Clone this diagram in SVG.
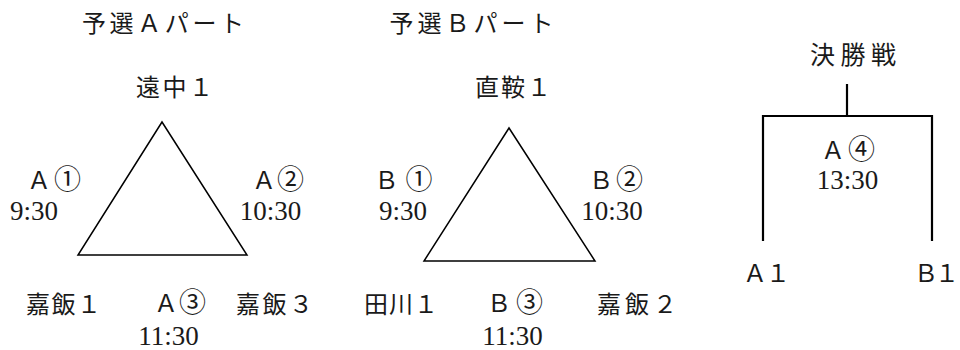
<svg xmlns="http://www.w3.org/2000/svg" width="960" height="350" viewBox="0 0 960 350">
<style>
  .jp { font-family: "Liberation Serif", "Noto Sans CJK JP", serif; font-size: 24px; fill: #1a1a1a; text-anchor: middle; }
  .tm { font-family: "Liberation Serif", "Noto Sans CJK JP", serif; font-size: 27px; fill: #1a1a1a; text-anchor: middle; }
  .c { font-size: 27px; }
  .tri { fill: none; stroke: #000; stroke-width: 1.5; stroke-linejoin: miter; }
  .ln { fill: none; stroke: #000; stroke-width: 2.2; }
</style>
<rect width="960" height="350" fill="#fff"/>

<g id="partA">
  <text class="jp" x="163" y="32" textLength="162">予選Ａパート</text>
  <g id="a-top"><text class="jp" x="174.5" y="96" textLength="77">遠中１</text></g>
  <polygon id="triangle-a" class="tri" points="162,122 78,255 247,255"/>
  <g id="a-match1">
    <text class="jp" x="54" y="189" textLength="54">Ａ<tspan class="c">①</tspan></text>
    <text class="tm" x="34" y="219.5">9:30</text>
  </g>
  <g id="a-match2">
    <text class="jp" x="278" y="189" textLength="52">Ａ<tspan class="c">②</tspan></text>
    <text class="tm" x="270.5" y="219.5">10:30</text>
  </g>
  <g id="a-left"><text class="jp" x="63.5" y="313" textLength="75">嘉飯１</text></g>
  <g id="a-match3">
    <text class="jp" x="180" y="312" textLength="52">Ａ<tspan class="c">③</tspan></text>
    <text class="tm" x="168.5" y="345">11:30</text>
  </g>
  <g id="a-right"><text class="jp" x="274.5" y="313" textLength="77">嘉飯３</text></g>
</g>

<g id="partB">
  <text class="jp" x="471.5" y="32" textLength="164">予選Ｂパート</text>
  <g id="b-top"><text class="jp" x="513" y="96" textLength="76">直鞍１</text></g>
  <polygon id="triangle-b" class="tri" points="509,128 424,261 595,261"/>
  <g id="b-match1">
    <text class="jp" x="403.5" y="189" textLength="58">Ｂ<tspan class="c">①</tspan></text>
    <text class="tm" x="403" y="219.5">9:30</text>
  </g>
  <g id="b-match2">
    <text class="jp" x="616" y="189" textLength="54">Ｂ<tspan class="c">②</tspan></text>
    <text class="tm" x="612" y="219.5">10:30</text>
  </g>
  <g id="b-left"><text class="jp" x="401" y="313" textLength="74">田川１</text></g>
  <g id="b-match3">
    <text class="jp" x="515" y="312" textLength="56">Ｂ<tspan class="c">③</tspan></text>
    <text class="tm" x="512.5" y="345">11:30</text>
  </g>
  <g id="b-right"><text class="jp" x="637" y="313" textLength="80">嘉飯２</text></g>
</g>

<g id="final">
  <g id="final-title"><text class="jp" x="853" y="63.5" textLength="86" style="font-size:25px">決勝戦</text></g>
  <g id="final-match">
    <text class="jp" x="848" y="159" textLength="54">Ａ<tspan class="c">④</tspan></text>
    <text class="tm" x="847.5" y="189">13:30</text>
  </g>
  <g id="final-a1"><text class="jp" x="766.5" y="282" textLength="47">Ａ１</text></g>
  <g id="final-b1"><text class="jp" x="936.5" y="282" textLength="45">Ｂ１</text></g>
</g>

<g id="connectors">
  <line class="ln" x1="847" y1="84" x2="847" y2="116"/>
  <polyline class="ln" points="763,241 763,116 932,116 932,241"/>
</g>
</svg>
